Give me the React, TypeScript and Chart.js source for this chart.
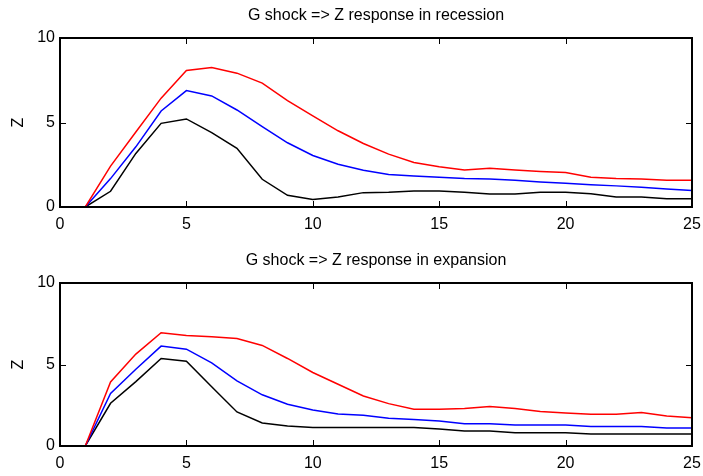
import { useEffect, useRef } from "react";
import { Chart, registerables } from "chart.js";

Chart.register(...registerables);

// Impulse-response horizons (periods after the G shock)
const horizons = [1, 2, 3, 4, 5, 6, 7, 8, 9, 10, 11, 12, 13, 14, 15, 16, 17, 18, 19, 20, 21, 22, 23, 24, 25];

// Axis tick values
const xTickValues = [0, 5, 10, 15, 20, 25];
const yTickValues = [0, 5, 10];

// Recession regime: upper band, median, lower band
const recessionUpper = [0, 2.42, 4.44, 6.44, 8.08, 8.26, 7.92, 7.33, 6.3, 5.39, 4.51, 3.76, 3.13, 2.63, 2.38, 2.19, 2.29, 2.19, 2.1, 2.04, 1.76, 1.68, 1.66, 1.58, 1.58];
const recessionMedian = [0, 1.68, 3.56, 5.68, 6.89, 6.57, 5.74, 4.75, 3.8, 3.05, 2.53, 2.18, 1.92, 1.84, 1.76, 1.68, 1.66, 1.58, 1.48, 1.4, 1.32, 1.25, 1.17, 1.07, 0.97];
const recessionLower = [0, 0.93, 3.17, 4.95, 5.21, 4.4, 3.47, 1.64, 0.69, 0.44, 0.59, 0.85, 0.87, 0.95, 0.95, 0.87, 0.77, 0.77, 0.87, 0.87, 0.79, 0.59, 0.59, 0.49, 0.49];

// Expansion regime: upper band, median, lower band
const expansionUpper = [0, 3.93, 5.64, 6.95, 6.78, 6.7, 6.6, 6.17, 5.37, 4.51, 3.79, 3.07, 2.6, 2.25, 2.25, 2.3, 2.42, 2.3, 2.11, 2.03, 1.95, 1.95, 2.05, 1.84, 1.74];
const expansionMedian = [0, 3.22, 4.71, 6.13, 5.94, 5.1, 4.0, 3.14, 2.56, 2.21, 1.97, 1.89, 1.7, 1.62, 1.54, 1.37, 1.37, 1.29, 1.29, 1.29, 1.19, 1.19, 1.19, 1.11, 1.11];
const expansionLower = [0, 2.62, 3.95, 5.37, 5.2, 3.63, 2.09, 1.41, 1.23, 1.13, 1.13, 1.13, 1.13, 1.13, 1.05, 0.92, 0.92, 0.82, 0.82, 0.82, 0.74, 0.74, 0.74, 0.74, 0.74];

const FONT = "'Liberation Sans', Arial, Helvetica, sans-serif";

// Box around the plot area with short inward tick marks on all four sides
const framePlugin = {
  id: "frame",
  afterDatasetsDraw(chart: any) {
    const { ctx, chartArea, scales } = chart;
    const { left, right, top, bottom } = chartArea;
    const x = scales.x;
    const y = scales.y;
    const len = 6;
    ctx.save();
    ctx.strokeStyle = "#000";
    ctx.lineWidth = 1;
    ctx.beginPath();
    for (const t of x.ticks) {
      const px = Math.round(x.getPixelForValue(t.value)) + 0.5;
      ctx.moveTo(px, bottom);
      ctx.lineTo(px, bottom - len);
      ctx.moveTo(px, top);
      ctx.lineTo(px, top + len);
    }
    for (const t of y.ticks) {
      const py = Math.round(y.getPixelForValue(t.value)) + 0.5;
      ctx.moveTo(left, py);
      ctx.lineTo(left + len, py);
      ctx.moveTo(right, py);
      ctx.lineTo(right - len, py);
    }
    ctx.stroke();
    ctx.lineWidth = 2;
    ctx.strokeRect(left, top, right - left, bottom - top);
    ctx.restore();
  },
};

type PanelProps = {
  title: string;
  upper: number[];
  median: number[];
  lower: number[];
  height: number;
  titleTop: number;
  titleBottom: number;
  xAxisHeight: number;
};

function series(values: number[]) {
  return horizons.map((h, i) => ({ x: h, y: values[i] }));
}

function Panel({ title, upper, median, lower, height, titleTop, titleBottom, xAxisHeight }: PanelProps) {
  const ref = useRef<HTMLCanvasElement | null>(null);

  useEffect(() => {
    if (!ref.current) return;
    const line = (data: number[], color: string) => ({
      data: series(data),
      borderColor: color,
      borderWidth: 1.5,
      pointRadius: 0,
      tension: 0,
      fill: false,
    });
    const chart = new Chart(ref.current, {
      type: "line",
      data: {
        datasets: [
          line(upper, "#ff0000"),
          line(median, "#0000ff"),
          line(lower, "#000000"),
        ],
      },
      options: {
        animation: false,
        responsive: false,
        events: [],
        layout: { padding: { left: 0, right: 11, top: 0, bottom: 0 } },
        plugins: {
          legend: { display: false },
          tooltip: { enabled: false },
          title: {
            display: true,
            text: title,
            color: "#000",
            fullSize: false,
            font: { family: FONT, size: 16, weight: "normal" },
            padding: { top: titleTop, bottom: titleBottom },
          },
        },
        scales: {
          x: {
            type: "linear",
            min: 0,
            max: 25,
            afterBuildTicks: (s: any) => {
              s.ticks = xTickValues.map((v) => ({ value: v }));
            },
            afterFit: (s: any) => {
              s.height = xAxisHeight;
              s.paddingLeft = 0;
              s.paddingRight = 0;
            },
            grid: { display: false, drawTicks: false },
            border: { display: false },
            ticks: {
              color: "#000",
              padding: 8,
              maxRotation: 0,
              font: { family: FONT, size: 16 },
            },
          },
          y: {
            type: "linear",
            min: 0,
            max: 10,
            afterBuildTicks: (s: any) => {
              s.ticks = yTickValues.map((v) => ({ value: v }));
            },
            afterFit: (s: any) => {
              s.width = 60;
              s.paddingTop = 0;
              s.paddingBottom = 0;
            },
            grid: { display: false, drawTicks: false },
            border: { display: false },
            ticks: {
              color: "#000",
              padding: 5,
              font: { family: FONT, size: 16 },
            },
            title: {
              display: true,
              text: "Z",
              color: "#000",
              font: { family: FONT, size: 16 },
              padding: { top: 9, bottom: 0 },
            },
          },
        },
      },
      plugins: [framePlugin],
    } as any);
    return () => chart.destroy();
  }, [title, upper, median, lower, height, titleTop, titleBottom, xAxisHeight]);

  return (
    <div style={{ width: 703, height }}>
      <canvas ref={ref} width={703} height={height} style={{ display: "block" }} />
    </div>
  );
}

export default function App() {
  return (
    <div style={{ position: "absolute", left: 0, top: 0, width: 703, height: 476, background: "#fff" }}>
      <Panel
        title="G shock => Z response in recession"
        upper={recessionUpper}
        median={recessionMedian}
        lower={recessionLower}
        height={238}
        titleTop={6}
        titleBottom={12.8}
        xAxisHeight={31}
      />
      <Panel
        title="G shock => Z response in expansion"
        upper={expansionUpper}
        median={expansionMedian}
        lower={expansionLower}
        height={238}
        titleTop={13.4}
        titleBottom={12.4}
        xAxisHeight={30}
      />
    </div>
  );
}
